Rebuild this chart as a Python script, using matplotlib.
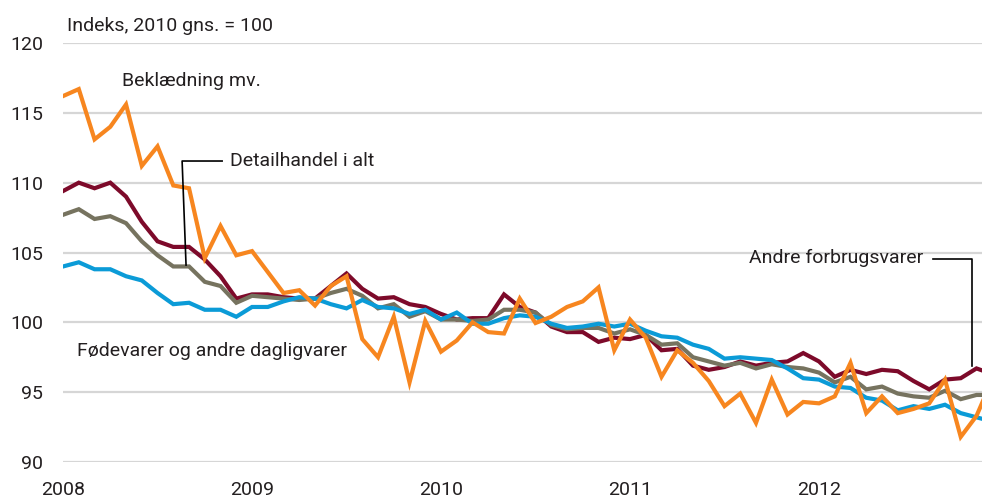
import matplotlib
matplotlib.use('Agg')
import matplotlib.pyplot as plt
import numpy as np

plt.rcParams['font.family'] = ['Roboto', 'DejaVu Sans']

# monthly index, Jan 2008 - Dec 2012 (2010 avg = 100)
months = np.arange(60)
year_ticks = [0, 12, 24, 36, 48]
year_labels = ['2008', '2009', '2010', '2011', '2012']

beklaedning = [116.2, 116.7, 113.1, 114.0, 115.6, 111.2, 112.6, 109.8, 109.6, 104.6,
               106.9, 104.8, 105.1, 103.6, 102.1, 102.3, 101.2, 102.6, 103.3, 98.8,
               97.5, 100.4, 95.7, 100.1, 97.9, 98.7, 100.0, 99.3, 99.2, 101.7,
               99.95, 100.4, 101.1, 101.5, 102.5, 98.0, 100.2, 98.9, 96.1, 98.0,
               97.1, 95.8, 94.0, 94.9, 92.8, 95.9, 93.4, 94.3, 94.2, 94.7,
               97.1, 93.5, 94.7, 93.5, 93.8, 94.2, 95.9, 91.8, 93.3, 95.9]
andre = [109.4, 110.0, 109.6, 110.0, 109.0, 107.2, 105.8, 105.4, 105.4, 104.5,
         103.3, 101.7, 102.0, 102.0, 101.8, 101.7, 101.7, 102.6, 103.5, 102.4,
         101.7, 101.8, 101.3, 101.1, 100.6, 100.2, 100.3, 100.3, 102.0, 101.1,
         100.7, 99.7, 99.3, 99.3, 98.6, 98.9, 98.8, 99.1, 98.0, 98.1,
         96.9, 96.6, 96.8, 97.2, 96.9, 97.1, 97.2, 97.8, 97.2, 96.1,
         96.6, 96.3, 96.6, 96.5, 95.8, 95.2, 95.9, 96.0, 96.7, 96.3]
detail_i_alt = [107.7, 108.1, 107.4, 107.6, 107.1, 105.8, 104.8, 104.0, 104.0, 102.9,
                102.6, 101.4, 101.9, 101.8, 101.7, 101.6, 101.7, 102.1, 102.4, 101.9,
                101.0, 101.3, 100.4, 100.8, 100.2, 100.2, 100.1, 100.2, 100.9, 100.9,
                100.7, 99.8, 99.5, 99.6, 99.6, 99.2, 99.5, 99.1, 98.4, 98.5,
                97.5, 97.2, 96.9, 97.1, 96.7, 97.0, 96.8, 96.7, 96.4, 95.7,
                96.1, 95.2, 95.4, 94.9, 94.7, 94.6, 95.1, 94.5, 94.8, 94.8]
foedevarer = [104.0, 104.3, 103.8, 103.8, 103.3, 103.0, 102.1, 101.3, 101.4, 100.9,
              100.9, 100.4, 101.1, 101.1, 101.5, 101.8, 101.7, 101.3, 101.0, 101.6,
              101.1, 101.0, 100.6, 100.9, 100.2, 100.7, 99.9, 99.9, 100.3, 100.5,
              100.4, 99.9, 99.6, 99.7, 99.9, 99.7, 99.9, 99.4, 99.0, 98.9,
              98.4, 98.1, 97.4, 97.5, 97.4, 97.3, 96.7, 96.0, 95.9, 95.4,
              95.3, 94.6, 94.4, 93.7, 94.0, 93.8, 94.1, 93.5, 93.2, 92.9]

txt_col = '#231f20'
fs = 14

fig = plt.figure(figsize=(9.82, 5.0), dpi=100)
ax = fig.add_axes([0.0642, 0.076, 0.9358, 0.838])

ax.plot(months, andre, color='#7d0a2a', linewidth=3, solid_joinstyle='miter')
ax.plot(months, detail_i_alt, color='#76735f', linewidth=3, solid_joinstyle='miter')
ax.plot(months, foedevarer, color='#0b9bd7', linewidth=3, solid_joinstyle='miter')
ax.plot(months, beklaedning, color='#f7861f', linewidth=3, solid_joinstyle='miter')

ax.set_xlim(0, 58.35)
ax.set_ylim(90, 120)
ax.set_yticks([90, 95, 100, 105, 110, 115, 120])
ax.set_xticks(year_ticks)
ax.set_xticklabels(year_labels)
ax.yaxis.grid(True, color='#d6d6d6', linewidth=1.6)
ax.set_axisbelow(True)
for s in ax.spines.values():
    s.set_visible(False)
ax.tick_params(length=0, labelsize=fs, colors=txt_col)
ax.tick_params(axis='y', pad=14.5)
ax.tick_params(axis='x', pad=14)

# labels and leader lines
ax.text(0.25, 121.2, 'Indeks, 2010 gns. = 100', fontsize=fs, color=txt_col,
        va='center', ha='left', clip_on=False)
ax.text(3.75, 117.26, 'Beklædning mv.', fontsize=fs, color=txt_col, va='center')
ax.text(10.6, 111.55, 'Detailhandel i alt', fontsize=fs, color=txt_col, va='center')
ax.plot([10.1, 7.56, 7.81], [111.55, 111.55, 104.1], color='black', linewidth=1.2)
ax.text(54.6, 104.62, 'Andre forbrugsvarer', fontsize=fs, color=txt_col,
        va='center', ha='right')
ax.plot([55.24, 57.7, 57.7], [104.53, 104.53, 96.86], color='black', linewidth=1.2)
ax.text(0.89, 97.98, 'Fødevarer og andre dagligvarer', fontsize=fs, color=txt_col,
        va='center')

plt.savefig('out.png', dpi=100)
